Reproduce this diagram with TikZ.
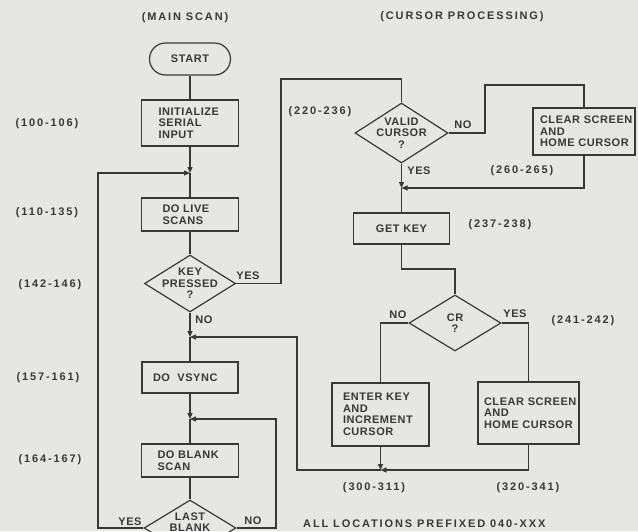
\documentclass[tikz,border=0pt]{standalone}
\usepackage{fontspec}
\newfontfamily\bfont{Liberation Sans}[LetterSpace=5]
\newfontfamily\lfont{Liberation Sans}[LetterSpace=17]
\usetikzlibrary{shapes.geometric,arrows.meta}
\definecolor{ink}{HTML}{383838}
\definecolor{paper}{HTML}{E6E6E3}
\hyphenpenalty=10000
\exhyphenpenalty=10000
\hbadness=10000
\hfuzz=100pt
\begin{document}
\begin{tikzpicture}[x=1pt,y=-1pt,
  every node/.style={text=ink, font=\bfont\bfseries\fontsize{11}{11.5}\selectfont},
  line/.style={draw=ink, line width=1.2pt},
  arr/.style={line, -{Triangle[length=6pt,width=5pt]}},
  box/.style={draw=ink, line width=1.2pt, rectangle, align=left, inner ysep=0pt},
  dia/.style={draw=ink, line width=1.2pt, diamond, inner sep=0pt},
  lbl/.style={font=\lfont\bfseries\fontsize{11}{11.5}\selectfont},
]
\useasboundingbox (0,0) rectangle (638,531);
\clip (0,0) rectangle (638,531);
\fill[paper] (0,0) rectangle (638,531);

\node[lbl] (t1) at (185,18) {(MAIN SCAN)};
\node[lbl] (t2) at (462,17) {(CURSOR PROCESSING)};

% main column
\node[draw=ink, line width=1.2pt, rounded corners=16pt, minimum width=81pt, minimum height=32pt] (start) at (190,59) {START};
\node[box, minimum height=46pt, text width=63pt, inner xsep=17pt] (init) at (190,123) {INITIALIZE\\SERIAL\\INPUT};
\coordinate (j1) at (190,173);
\node[box, minimum height=33pt, text width=55pt, inner xsep=21pt] (live) at (190,214.5) {DO~LIVE\\SCANS};
\node[dia, minimum width=91pt, minimum height=57pt, label={[align=center]center:KEY\\PRESSED\\?}] (keyp) at (190,283.5) {};
\coordinate (j2) at (190,337);
\node[box, minimum height=31pt, text width=74pt, inner xsep=11pt] (vsync) at (190,377.5) {DO~~VSYNC};
\coordinate (j3) at (190,419);
\node[box, minimum height=33pt, text width=65pt, inner xsep=16pt] (blank) at (190,460.5) {DO~BLANK\\SCAN};
\node[dia, minimum width=92pt, minimum height=56pt, label={[align=center]center:LAST\\BLANK\\?}] (last) at (190,528) {};
\coordinate (c3) at (98,528);
\coordinate (c4) at (276,528);

% cursor column
\coordinate (c1) at (281,79);
\node[dia, minimum width=93pt, minimum height=60pt, label={[align=center]center:VALID\\CURSOR\\?}] (valid) at (401.5,133) {};
\coordinate (c2) at (485,85);
\node[box, minimum height=47pt, text width=88pt, inner xsep=7pt] (clr1) at (584,131.5) {CLEAR~SCREEN\\AND\\HOME~CURSOR};
\coordinate (j5) at (401.5,188);
\node[box, align=center, minimum height=31pt, text width=88pt, inner xsep=4pt] (getkey) at (401.5,228.5) {GET KEY};
\coordinate (c5) at (430,269);
\node[dia, minimum width=92pt, minimum height=56pt, label={[align=center]center:CR\\?}] (cr) at (455,323) {};
\node[box, minimum height=63pt, text width=75pt, inner xsep=11pt] (enter) at (380.5,414.5) {ENTER~KEY\\AND\\INCREMENT\\CURSOR};
\node[box, minimum height=62pt, text width=89pt, inner xsep=6pt] (clr2) at (528.5,413) {CLEAR~SCREEN\\AND\\HOME~CURSOR};
\coordinate (j4) at (380.5,470);
\coordinate (c6) at (297,470);

% connectors
\draw[line] (start) -- (init);
\draw[arr] (init) -- (j1);
\draw[line] (j1) -- (live);
\draw[line] (live) -- (keyp);
\draw[arr] (keyp) -- (j2);
\draw[line] (j2) -- (vsync);
\draw[arr] (vsync) -- (j3);
\draw[line] (j3) -- (blank);
\draw[line] (blank) -- (last);
\draw[arr] (last.west) -- (c3) |- (j1);
\draw[arr] (last.east) -- (c4) |- (j3);
\draw[line] (keyp.east) -| (c1) -| (valid.north);
\draw[line] (valid.east) -| (c2) -| (clr1.north);
\draw[arr] (clr1.south) |- (j5);
\draw[arr] (valid.south) -- (j5);
\draw[line] (j5) -- (getkey);
\draw[line] (getkey.south) |- (c5) -| (cr.north);
\draw[line] (cr.west) -| (enter.north);
\draw[line] (cr.east) -| (clr2.north);
\draw[arr] (enter) -- (j4);
\draw[arr] (clr2.south) |- (j4);
\draw[arr] (j4) -- (c6) |- (j2);

% branch labels
\node (ky) at (248,276) {YES};
\node (kn) at (204,320) {NO};
\node (vn) at (463,125) {NO};
\node (vy) at (419,171) {YES};
\node (cn) at (398,315) {NO};
\node (cy) at (515,314) {YES};
\node (ly) at (130,522) {YES};
\node (ln) at (253,521) {NO};

% location labels
\node[lbl] (a1) at (47,124) {(100-106)};
\node[lbl] (a2) at (47,213) {(110-135)};
\node[lbl] (a3) at (50,285) {(142-146)};
\node[lbl] (a4) at (48,378) {(157-161)};
\node[lbl] (a5) at (50,460) {(164-167)};
\node[lbl] (a6) at (320,112) {(220-236)};
\node[lbl] (a7) at (522,171) {(260-265)};
\node[lbl] (a8) at (500,225) {(237-238)};
\node[lbl] (a9) at (583,321) {(241-242)};
\node[lbl] (a10) at (374,488) {(300-311)};
\node[lbl] (a11) at (528,488) {(320-341)};
\node[lbl, anchor=west, inner sep=0pt] (note) at (303,524) {ALL LOCATIONS PREFIXED 040-XXX};
\end{tikzpicture}
\end{document}
